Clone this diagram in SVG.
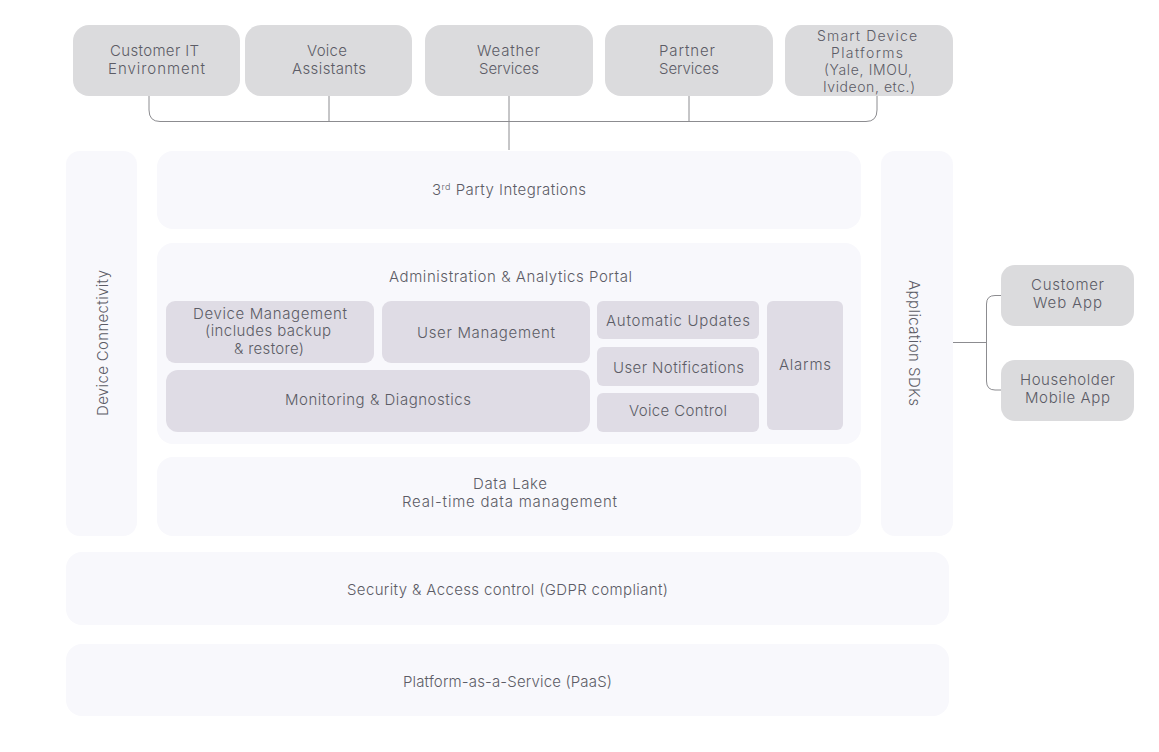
<svg xmlns="http://www.w3.org/2000/svg" width="1159" height="752" viewBox="0 0 1159 752">
<style>
text{font-family:Inter,"Noto Sans","Liberation Sans",sans-serif;font-size:15px;font-weight:300;fill:#5c5c66;text-anchor:middle}
.s{font-size:14px}
.g{fill:#dbdbdd}.l{fill:#f8f8fc}.m{fill:#dfdce5}
.c{fill:none;stroke:#8c8c90;stroke-width:1}
</style>
<rect width="1159" height="752" fill="#fff"/>
<g id="connectors">
<path class="c" d="M149 96V110Q149 121.500 160 121.500H866Q877 121.500 877 110V96"/>
<path class="c" d="M329 96V121.500M509 96V150M689 96V121.500"/>
<path class="c" d="M953 342.500H986.500M1001 295.500H995Q986.500 295.500 986.500 304V381Q986.500 390 995 390H1001"/>
</g>
<g id="customer-it"><rect class="g" x="73" y="25" width="167" height="71" rx="16"/><text x="154.500" y="56" textLength="89">Customer IT</text><text x="156.500" y="74" textLength="97">Environment</text></g>
<g id="voice-assistants"><rect class="g" x="245" y="25" width="167" height="71" rx="16"/><text x="327" y="56" textLength="40">Voice</text><text x="329" y="74" textLength="74">Assistants</text></g>
<g id="weather-services"><rect class="g" x="425" y="25" width="168" height="71" rx="16"/><text x="508.500" y="56" textLength="63">Weather</text><text x="509" y="74" textLength="60">Services</text></g>
<g id="partner-services"><rect class="g" x="605" y="25" width="168" height="71" rx="16"/><text x="687" y="56" textLength="56">Partner</text><text x="689" y="74" textLength="60">Services</text></g>
<g id="smart-device"><rect class="g" x="785" y="25" width="168" height="71" rx="16"/><text class="s" x="867" y="41" textLength="100">Smart Device</text><text class="s" x="867" y="58" textLength="72">Platforms</text><text class="s" x="868" y="75" textLength="88">(Yale, IMOU,</text><text class="s" x="869" y="92" textLength="92">Ivideon, etc.)</text></g>
<g id="device-connectivity"><rect class="l" x="66" y="151" width="71" height="385" rx="14"/><text transform="translate(108 343) rotate(-90)" textLength="146">Device Connectivity</text></g>
<g id="third-party"><rect class="l" x="157" y="151" width="704" height="78" rx="16"/><text x="509" y="195" textLength="154">3<tspan font-size="9" dy="-5">rd</tspan><tspan dy="5"> Party Integrations</tspan></text></g>
<g id="admin-portal"><rect class="l" x="157" y="243" width="704" height="201" rx="16"/><text x="510.500" y="282" textLength="243">Administration &amp; Analytics Portal</text></g>
<g id="device-management"><rect class="m" x="166" y="301" width="208" height="62" rx="9"/><text x="270" y="319" textLength="154">Device Management</text><text x="268" y="336" textLength="126">(includes backup</text><text x="269" y="354" textLength="70">&amp; restore)</text></g>
<g id="user-management"><rect class="m" x="382" y="301" width="208" height="62" rx="9"/><text x="486" y="338" textLength="138">User Management</text></g>
<g id="monitoring"><rect class="m" x="166" y="370" width="424" height="62" rx="12"/><text x="378" y="405" textLength="186">Monitoring &amp; Diagnostics</text></g>
<g id="automatic-updates"><rect class="m" x="597" y="301" width="162" height="38" rx="6"/><text x="678" y="326" textLength="144">Automatic Updates</text></g>
<g id="user-notifications"><rect class="m" x="597" y="347" width="162" height="39" rx="6"/><text x="678.500" y="373" textLength="131">User Notifications</text></g>
<g id="voice-control"><rect class="m" x="597" y="393" width="162" height="39" rx="6"/><text x="678" y="416" textLength="98">Voice Control</text></g>
<g id="alarms"><rect class="m" x="767" y="301" width="76" height="129" rx="6"/><text x="805" y="370" textLength="52">Alarms</text></g>
<g id="data-lake"><rect class="l" x="157" y="457" width="704" height="79" rx="16"/><text x="510" y="489" textLength="74">Data Lake</text><text x="509.500" y="507" textLength="215">Real-time data management</text></g>
<g id="application-sdks"><rect class="l" x="881" y="151" width="72" height="385" rx="14"/><text transform="translate(909 343) rotate(90)" textLength="126">Application SDKs</text></g>
<g id="customer-web"><rect class="g" x="1001" y="265" width="133" height="61" rx="14"/><text x="1067.500" y="290" textLength="73">Customer</text><text x="1067.500" y="308" textLength="69">Web App</text></g>
<g id="householder-mobile"><rect class="g" x="1001" y="360" width="133" height="61" rx="14"/><text x="1067.500" y="385" textLength="95">Householder</text><text x="1067.500" y="403" textLength="85">Mobile App</text></g>
<g id="security"><rect class="l" x="66" y="552" width="883" height="73" rx="16"/><text x="507.500" y="595" textLength="321">Security &amp; Access control (GDPR compliant)</text></g>
<g id="paas"><rect class="l" x="66" y="644" width="883" height="72" rx="16"/><text x="507.500" y="687" textLength="209">Platform-as-a-Service (PaaS)</text></g>
</svg>
